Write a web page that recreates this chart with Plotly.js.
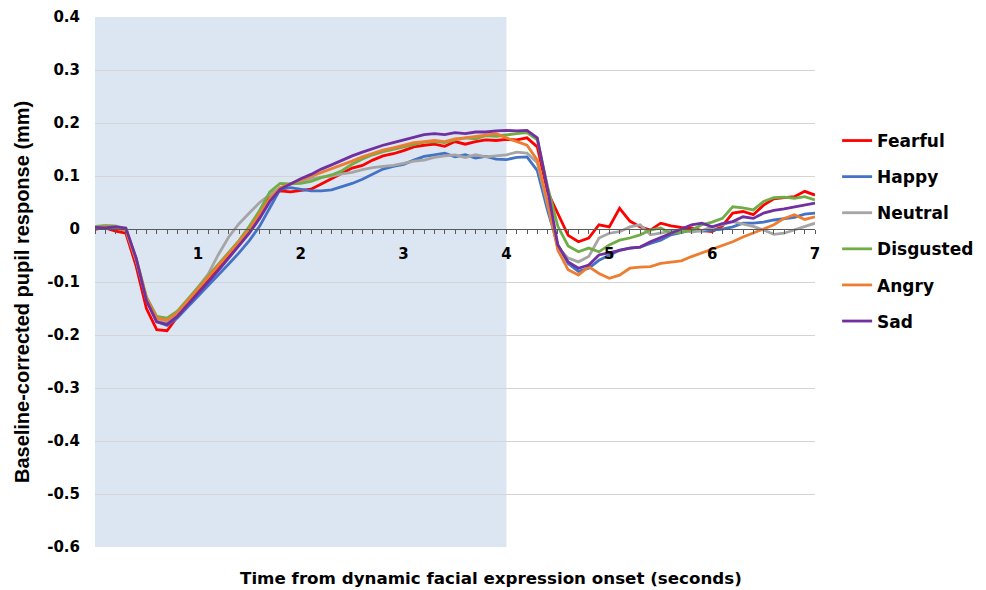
<!DOCTYPE html>
<html><head><meta charset="utf-8">
<script src="https://cdn.plot.ly/plotly-3.0.1.min.js"></script>
<style>html,body{margin:0;padding:0;background:#fff}#chart{width:986px;height:590px}</style>
</head><body><div id="chart"></div>
<script>
// Time (seconds from dynamic facial expression onset)
const time = [0.0,0.1,0.2,0.3,0.4,0.5,0.6,0.7,0.8,0.9,
  1.0,1.1,1.2,1.3,1.4,1.5,1.6,1.7,1.8,1.9,
  2.0,2.1,2.2,2.3,2.4,2.5,2.6,2.7,2.8,2.9,
  3.0,3.1,3.2,3.3,3.4,3.5,3.6,3.7,3.8,3.9,
  4.0,4.1,4.2,4.3,4.4,4.5,4.6,4.7,4.8,4.9,
  5.0,5.1,5.2,5.3,5.4,5.5,5.6,5.7,5.8,5.9,
  6.0,6.1,6.2,6.3,6.4,6.5,6.6,6.7,6.8,6.9,
  7.0];

const fearful = [0.000,0.002,-0.004,-0.008,-0.070,-0.150,-0.190,-0.192,-0.166,-0.140,
  -0.118,-0.096,-0.074,-0.052,-0.030,-0.005,0.025,0.068,0.072,0.070,
  0.072,0.075,0.085,0.095,0.105,0.115,0.120,0.130,0.138,0.142,
  0.148,0.155,0.158,0.160,0.156,0.165,0.160,0.165,0.168,0.167,
  0.169,0.168,0.172,0.155,0.070,0.030,-0.012,-0.024,-0.017,0.008,
  0.004,0.039,0.015,0.004,-0.002,0.011,0.006,0.003,0.002,-0.003,
  -0.005,0.006,0.030,0.033,0.027,0.045,0.057,0.059,0.061,0.071,
  0.064];

const happy = [0.000,0.003,0.002,-0.003,-0.060,-0.135,-0.175,-0.182,-0.168,-0.148,
  -0.128,-0.108,-0.088,-0.066,-0.045,-0.022,0.005,0.040,0.075,0.078,
  0.075,0.072,0.072,0.074,0.080,0.086,0.094,0.104,0.113,0.118,
  0.122,0.130,0.137,0.140,0.143,0.136,0.140,0.134,0.137,0.132,
  0.131,0.135,0.136,0.110,0.035,-0.030,-0.065,-0.080,-0.074,-0.059,
  -0.049,-0.040,-0.036,-0.034,-0.027,-0.021,-0.011,-0.006,-0.002,-0.004,
  -0.002,0.000,0.004,0.011,0.011,0.013,0.017,0.019,0.022,0.028,
  0.030];

const neutral = [0.005,0.007,0.006,0.000,-0.058,-0.132,-0.172,-0.175,-0.158,-0.135,
  -0.110,-0.085,-0.048,-0.015,0.010,0.030,0.050,0.065,0.078,0.085,
  0.090,0.095,0.098,0.100,0.104,0.107,0.112,0.116,0.118,0.120,
  0.124,0.128,0.130,0.135,0.138,0.140,0.135,0.140,0.136,0.138,
  0.140,0.145,0.143,0.125,0.045,-0.035,-0.055,-0.062,-0.052,-0.017,
  -0.008,-0.005,0.004,0.008,-0.011,-0.008,-0.004,-0.001,-0.006,-0.003,
  0.004,0.008,0.014,0.010,0.005,-0.002,-0.010,-0.008,-0.002,0.004,
  0.011];

const disgusted = [0.004,0.006,0.005,0.000,-0.055,-0.128,-0.165,-0.168,-0.155,-0.133,
  -0.112,-0.090,-0.068,-0.045,-0.022,0.005,0.035,0.070,0.086,0.085,
  0.086,0.090,0.097,0.102,0.110,0.122,0.132,0.140,0.146,0.150,
  0.155,0.160,0.164,0.165,0.163,0.168,0.172,0.170,0.176,0.175,
  0.178,0.180,0.182,0.168,0.080,0.005,-0.032,-0.043,-0.036,-0.043,
  -0.030,-0.021,-0.017,-0.011,-0.002,0.002,-0.008,-0.006,-0.002,0.008,
  0.013,0.020,0.042,0.040,0.036,0.052,0.059,0.060,0.058,0.061,
  0.055];

const angry = [0.002,0.004,0.003,-0.003,-0.058,-0.130,-0.168,-0.172,-0.158,-0.136,
  -0.114,-0.092,-0.070,-0.047,-0.024,0.000,0.028,0.058,0.078,0.085,
  0.093,0.100,0.107,0.113,0.120,0.128,0.136,0.143,0.149,0.153,
  0.158,0.163,0.165,0.167,0.165,0.170,0.172,0.175,0.178,0.180,
  0.172,0.165,0.158,0.130,0.050,-0.040,-0.077,-0.087,-0.071,-0.084,
  -0.093,-0.087,-0.074,-0.072,-0.071,-0.065,-0.062,-0.060,-0.052,-0.045,
  -0.038,-0.030,-0.024,-0.015,-0.008,0.000,0.008,0.020,0.027,0.018,
  0.023];

const sad = [0.003,0.002,0.004,0.002,-0.055,-0.135,-0.175,-0.180,-0.165,-0.144,
  -0.122,-0.100,-0.078,-0.055,-0.032,-0.008,0.020,0.052,0.075,0.085,
  0.095,0.103,0.113,0.121,0.130,0.138,0.145,0.152,0.158,0.163,
  0.168,0.173,0.178,0.180,0.178,0.182,0.180,0.183,0.183,0.185,
  0.186,0.185,0.186,0.172,0.075,-0.030,-0.062,-0.074,-0.068,-0.049,
  -0.045,-0.040,-0.036,-0.034,-0.024,-0.016,-0.008,-0.001,0.008,0.011,
  0.004,0.010,0.014,0.023,0.020,0.030,0.035,0.038,0.042,0.045,
  0.049];

const seriesNames = ['Fearful','Happy','Neutral','Disgusted','Angry','Sad'];
const seriesValues = [fearful, happy, neutral, disgusted, angry, sad];
const seriesColors = ['#ff0000','#4472c4','#a5a5a5','#70ad47','#ed7d31','#7030a0'];

const stimulusWindow = [0, 4];
const xTickVals = [1,2,3,4,5,6,7];
const xTickLabels = ['1','2','3','4','5','6','7'];
const yTickVals = [0.4,0.3,0.2,0.1,0,-0.1,-0.2,-0.3,-0.4,-0.5,-0.6];
const yTickLabels = ['0.4','0.3','0.2','0.1','0','-0.1','-0.2','-0.3','-0.4','-0.5','-0.6'];
const xTitle = 'Time from dynamic facial expression onset (seconds)';
const yTitle = 'Baseline-corrected pupil response (mm)';

const traces = seriesNames.map((name, i) => ({
  type: 'scatter', mode: 'lines', name: name, x: time, y: seriesValues[i],
  legendgroup: name,
  line: {color: seriesColors[i], width: 2.8}
}));

const boldFont = (size) => ({family: 'DejaVu Sans, sans-serif', size: size, color: '#000', weight: 700});

const layout = {
  width: 986, height: 590,
  margin: {l: 95, r: 171, t: 17, b: 43},
  paper_bgcolor: '#fff', plot_bgcolor: '#fff',
  showlegend: true,
  legend: {xref: 'container', yref: 'container', x: 0.849, xanchor: 'left', y: 0.6085, yanchor: 'middle',
    font: boldFont(17), traceorder: 'grouped', tracegroupgap: 11,
    bgcolor: 'rgba(0,0,0,0)', itemwidth: 30},
  xaxis: {range: [0, 7], anchor: 'free', position: 0.6,
    showline: true, linecolor: '#595959', linewidth: 1,
    ticks: 'outside', ticklen: 4, tickcolor: '#595959', tickwidth: 1,
    tickmode: 'array', tickvals: xTickVals, ticktext: xTickLabels,
    minor: {tickmode: 'linear', tick0: 0, dtick: 0.1, ticks: 'outside', ticklen: 4, tickcolor: '#595959', showgrid: false},
    showgrid: false, zeroline: false, tickfont: boldFont(15), ticklabelstandoff: 7, fixedrange: true},
  yaxis: {range: [-0.6, 0.4], domain: [0, 1],
    tickmode: 'array', tickvals: yTickVals, ticktext: yTickLabels,
    showgrid: true, gridcolor: '#d4d4d4', gridwidth: 1, zeroline: false, showline: false,
    ticks: '', tickfont: boldFont(15), ticklabelstandoff: 14, fixedrange: true},
  shapes: [{type: 'rect', xref: 'x', yref: 'paper', x0: stimulusWindow[0], x1: stimulusWindow[1], y0: 0, y1: 1,
    fillcolor: '#dce6f2', line: {width: 0}, layer: 'below'}],
  annotations: [
    {text: xTitle, xref: 'paper', yref: 'paper', x: 0.55, y: -0.0587, xanchor: 'center', yanchor: 'middle',
      showarrow: false, font: boldFont(16.7)},
    {text: yTitle, xref: 'paper', yref: 'paper', x: -0.1014, y: 0.481, xanchor: 'center', yanchor: 'middle',
      textangle: -90, showarrow: false, font: {family: 'Liberation Sans, Arial, sans-serif', size: 20, color: '#000', weight: 700}}
  ]
};

Plotly.newPlot('chart', traces, layout, {displayModeBar: false, staticPlot: true});
</script>
</body></html>
